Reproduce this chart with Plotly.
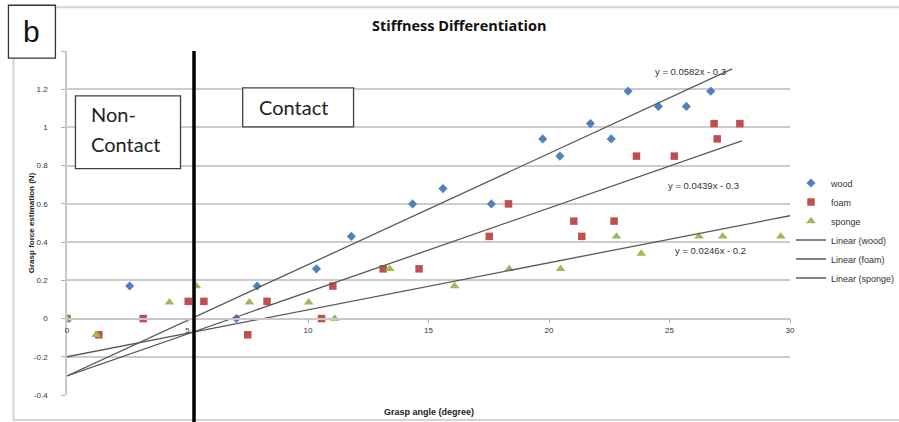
import plotly.graph_objects as go

# Grasp angle (degree) vs grasp force estimation (N) for three materials
wood_x = [0, 2.6, 7.03, 7.89, 10.35, 11.8, 14.34, 15.6, 17.61, 19.74, 20.45, 21.72, 22.58, 23.28, 24.54, 25.7, 26.71]
wood_y = [0, 0.17, 0, 0.17, 0.26, 0.43, 0.6, 0.68, 0.6, 0.94, 0.85, 1.02, 0.94, 1.19, 1.11, 1.11, 1.19]

foam_x = [0, 1.32, 3.16, 5.03, 5.68, 7.5, 8.3, 10.56, 11.03, 13.12, 14.61, 17.52, 18.32, 21.03, 21.36, 22.7, 23.63, 25.2, 26.85, 26.98, 27.92]
foam_y = [0, -0.085, 0, 0.09, 0.09, -0.085, 0.09, 0, 0.17, 0.26, 0.26, 0.43, 0.6, 0.51, 0.43, 0.51, 0.85, 0.85, 1.02, 0.94, 1.02]

sponge_x = [0, 1.21, 4.25, 5.37, 7.57, 10.03, 11.11, 13.39, 16.08, 18.35, 20.48, 22.8, 23.83, 26.22, 27.21, 29.62]
sponge_y = [0, -0.085, 0.085, 0.17, 0.085, 0.085, 0, 0.26, 0.17, 0.26, 0.26, 0.43, 0.34, 0.43, 0.43, 0.43]

# Linear trendlines: y = slope * x + intercept, drawn from x = 0 to x_end
trend_names = ["Linear (wood)", "Linear (foam)", "Linear (sponge)"]
trend_slope = [0.0582, 0.0439, 0.0246]
trend_intercept = [-0.3, -0.3, -0.2]
trend_end = [27.6, 28.0, 30.0]
trend_label_pos = [(25.87, 1.295), (26.39, 0.695), (26.7, 0.356)]

x_ticks = [0, 5, 10, 15, 20, 25, 30]
y_ticks = [-0.4, -0.2, 0, 0.2, 0.4, 0.6, 0.8, 1.0, 1.2, 1.4]
y_tick_text = ["-0.4", "-0.2", "0", "0.2", "0.4", "0.6", "0.8", "1", "1.2", ""]

contact_boundary = 5.27

fig = go.Figure()

fig.add_trace(go.Scatter(x=wood_x, y=wood_y, mode="markers", name="wood",
                         marker=dict(symbol="diamond", size=7, color="#4F81BD")))
fig.add_trace(go.Scatter(x=foam_x, y=foam_y, mode="markers", name="foam",
                         marker=dict(symbol="square", size=7.5, color="#C0504D")))
fig.add_trace(go.Scatter(x=sponge_x, y=sponge_y, mode="markers", name="sponge",
                         marker=dict(symbol="triangle-up", size=8.5, color="#9BBB59")))

for name, m, b, xe, (lx, ly) in zip(trend_names, trend_slope, trend_intercept, trend_end, trend_label_pos):
    fig.add_trace(go.Scatter(x=[0, xe], y=[b, m * xe + b], mode="lines", name=name,
                             line=dict(color="#5a5a5a", width=1.3)))
    sign = "-" if b < 0 else "+"
    fig.add_annotation(x=lx, y=ly, xref="x", yref="y",
                       text=f"y = {m}x {sign} {abs(b)}", showarrow=False,
                       font=dict(family="Liberation Sans", size=9.5, color="#333333"))

# Boundary between non-contact and contact phases
fig.add_shape(type="line", xref="x", yref="paper", x0=contact_boundary, x1=contact_boundary,
              y0=-0.09, y1=1.0, line=dict(color="black", width=3.5))

# Phase label boxes
fig.add_shape(type="rect", xref="x", yref="y", x0=0.35, x1=4.71, y0=0.784, y1=1.165,
              line=dict(color="#404040", width=1.3), fillcolor="white")
fig.add_annotation(x=0.93, y=1.071, xref="x", yref="y", xanchor="left", yanchor="middle",
                   text="Non-", showarrow=False,
                   font=dict(family="Lato", size=20, color="#222222"))
fig.add_annotation(x=0.93, y=0.9145, xref="x", yref="y", xanchor="left", yanchor="middle",
                   text="Contact", showarrow=False,
                   font=dict(family="Lato", size=20, color="#222222"))
fig.add_shape(type="rect", xref="x", yref="y", x0=7.29, x1=11.89, y0=1.003, y1=1.207,
              line=dict(color="#404040", width=1.3), fillcolor="white")
fig.add_annotation(x=7.9, y=1.107, xref="x", yref="y", xanchor="left", yanchor="middle",
                   text="Contact", showarrow=False,
                   font=dict(family="Lato", size=20, color="#222222"))

# Chart frame and panel letter
fig.add_shape(type="rect", xref="paper", yref="paper", x0=-0.074, x1=1.16, y0=-0.073, y1=1.127,
              line=dict(color="#d4d4d4", width=2), layer="below")
fig.add_shape(type="rect", xref="paper", yref="paper", x0=-0.081, x1=-0.016, y0=0.979, y1=1.133,
              line=dict(color="#333333", width=1.3), fillcolor="white")
fig.add_annotation(x=-0.0485, y=1.056, xref="paper", yref="paper", xanchor="center", yanchor="middle",
                   text="b", showarrow=False,
                   font=dict(family="Liberation Sans", size=30, color="#111111"))

fig.add_annotation(x=0.5, y=-0.03, xref="paper", yref="paper", xanchor="center", yanchor="top",
                   text="<b>Grasp angle (degree)</b>", showarrow=False,
                   font=dict(family="Liberation Sans", size=9, color="#222222"))
fig.add_annotation(x=-0.0495, y=0.5, xref="paper", yref="paper", xanchor="center", yanchor="middle",
                   text="<b>Grasp force estimation (N)</b>", showarrow=False, textangle=-90,
                   font=dict(family="Liberation Sans", size=8, color="#222222"))

fig.update_layout(
    width=899, height=422,
    margin=dict(l=66.5, r=109, t=50.7, b=27, autoexpand=False),
    paper_bgcolor="white", plot_bgcolor="white",
    title=dict(text="<b>Stiffness Differentiation</b>", x=0.5425, xref="paper", xanchor="center",
               y=1 - 26 / 422, yref="container", yanchor="middle",
               font=dict(family="Open Sans", size=14.5, color="#111111")),
    showlegend=True,
    legend=dict(x=791 / 899, y=1 - 230.5 / 422, xref="container", yref="container",
                xanchor="left", yanchor="middle", itemwidth=30,
                font=dict(family="Liberation Sans", size=9, color="#333333"),
                bgcolor="rgba(0,0,0,0)", tracegroupgap=0),
    xaxis=dict(range=[0, 30], tickvals=x_ticks, showgrid=False, zeroline=False,
               showline=True, linecolor="#c8c8c8", linewidth=1.5,
               ticks="outside", ticklen=4, tickcolor="#b0b0b0",
               anchor="free", position=0.2222, automargin=False,
               tickfont=dict(family="Liberation Sans", size=8, color="#333333")),
    yaxis=dict(range=[-0.4, 1.4], tickvals=y_ticks, ticktext=y_tick_text,
               showgrid=True, gridcolor="#cccccc", gridwidth=1.5, zeroline=False,
               showline=True, linecolor="#c8c8c8", linewidth=1.5, automargin=False,
               ticks="outside", ticklen=4, tickcolor="#b0b0b0", ticklabelstandoff=12,
               tickfont=dict(family="Liberation Sans", size=8, color="#333333")),
)

fig.write_html("out.html")
